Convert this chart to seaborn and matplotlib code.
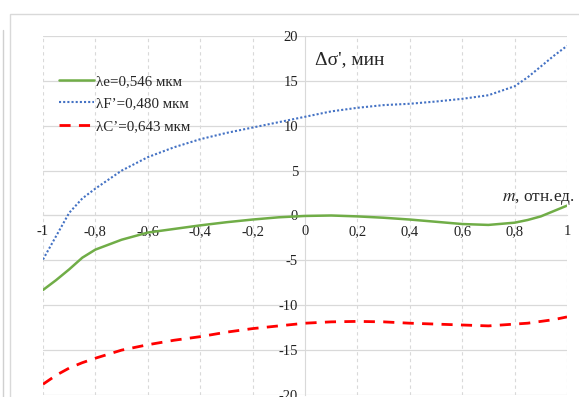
import matplotlib
matplotlib.use("Agg")
import matplotlib.pyplot as plt
import seaborn as sns
import pandas as pd
from matplotlib.patches import Rectangle

# values
m = [-1.0, -0.95, -0.9, -0.85, -0.8, -0.7, -0.6, -0.5, -0.4, -0.3, -0.2, -0.1, 0.0,
     0.1, 0.2, 0.3, 0.4, 0.5, 0.6, 0.7, 0.8, 0.85, 0.9, 0.95, 1.0]
lam_e = [-8.3, -7.2, -6.0, -4.7, -3.8, -2.7, -1.9, -1.5, -1.1, -0.75, -0.45, -0.2, -0.05,
         0.0, -0.1, -0.25, -0.45, -0.7, -0.95, -1.05, -0.8, -0.5, -0.1, 0.5, 1.1]
lam_F = [-4.9, -2.3, 0.3, 1.9, 3.0, 5.0, 6.5, 7.6, 8.5, 9.2, 9.8, 10.4, 11.0,
         11.6, 12.0, 12.3, 12.45, 12.7, 13.0, 13.4, 14.4, 15.4, 16.6, 17.8, 18.9]
lam_C = [-18.8, -17.8, -17.0, -16.4, -15.9, -15.0, -14.4, -13.9, -13.5, -13.0, -12.6, -12.3, -12.0,
         -11.85, -11.8, -11.85, -12.0, -12.1, -12.2, -12.3, -12.1, -12.0, -11.8, -11.6, -11.3]

labels = ["λe=0,546 мкм", "λF’=0,480 мкм", "λC’=0,643 мкм"]
colors = ["#70ad47", "#4472c4", "#ff0000"]
styles = ["-", (0, (1, 1)), (0, (4, 3))]
widths = [1.8, 1.5, 2.0]

x_ticks = [-1, -0.8, -0.6, -0.4, -0.2, 0, 0.2, 0.4, 0.6, 0.8, 1]
y_ticks = [-20, -15, -10, -5, 0, 5, 10, 15, 20]

sns.set_style("white")
plt.rcParams['font.family'] = ['Liberation Serif', 'DejaVu Serif']
plt.rcParams['mathtext.fontset'] = 'stix'

fig = plt.figure(figsize=(5.79, 3.97), dpi=100)
ax = fig.add_axes([43 / 579, 1 - 395 / 397, 524 / 579, 359 / 397])

# chart area border (cropped Excel chart)
fig.patches.append(Rectangle((10 / 579, -0.1), 2, 1 - 14 / 397 + 0.1, transform=fig.transFigure,
                             fill=False, edgecolor="#d9d9d9", linewidth=1.0))
fig.add_artist(plt.Line2D([3 / 579, 3 / 579], [0, 1 - 30 / 397], transform=fig.transFigure,
                          color="#d0d0d0", linewidth=1.0))

for vals, lab, c, ls, lw in zip([lam_e, lam_F, lam_C], labels, colors, styles, widths):
    df = pd.DataFrame({"m": m, "v": vals})
    sns.lineplot(data=df, x="m", y="v", ax=ax, color=c, linestyle=ls, linewidth=lw, label=lab)

ax.set_xlim(-1, 1)
ax.set_ylim(-20, 20)
ax.set_xticks(x_ticks)
ax.set_yticks(y_ticks)
ax.set_xticklabels([("%g" % t).replace(".", ",") for t in x_ticks])
ax.set_yticklabels([str(t) for t in y_ticks])
ax.set_xlabel("")
ax.set_ylabel("")

# grid: solid horizontal, dashed vertical
for t in y_ticks:
    ax.axhline(t, color="#d9d9d9", linewidth=0.9, zorder=0)
for t in x_ticks:
    if t != 0:
        ax.axvline(t, color="#d9d9d9", linewidth=0.8, linestyle=(0, (3, 3)), zorder=0)

for s in ["top", "right"]:
    ax.spines[s].set_visible(False)
ax.spines["left"].set_position(("data", 0))
ax.spines["bottom"].set_position(("data", 0))
ax.spines["left"].set_color("#d9d9d9")
ax.spines["bottom"].set_color("#d9d9d9")
ax.spines["left"].set_zorder(0)
ax.spines["bottom"].set_zorder(0)
ax.tick_params(axis="both", length=0, labelsize=10.5, colors="#222222")
ax.tick_params(axis="x", pad=7)
ax.tick_params(axis="y", pad=5)

ax.text(0.04, 17.4, "Δσ', мин", fontsize=14, ha="left", va="center")
ax.text(1.03, 1.8, r"$\mathit{m}$, отн.ед.", fontsize=12.5, ha="right", va="center")

leg = ax.legend(loc="upper left", bbox_to_anchor=(0.005, 0.93), frameon=False,
                fontsize=10.8, handlelength=2.3, handletextpad=0.15, labelspacing=0.6)

fig.savefig("out.png", dpi=100)
